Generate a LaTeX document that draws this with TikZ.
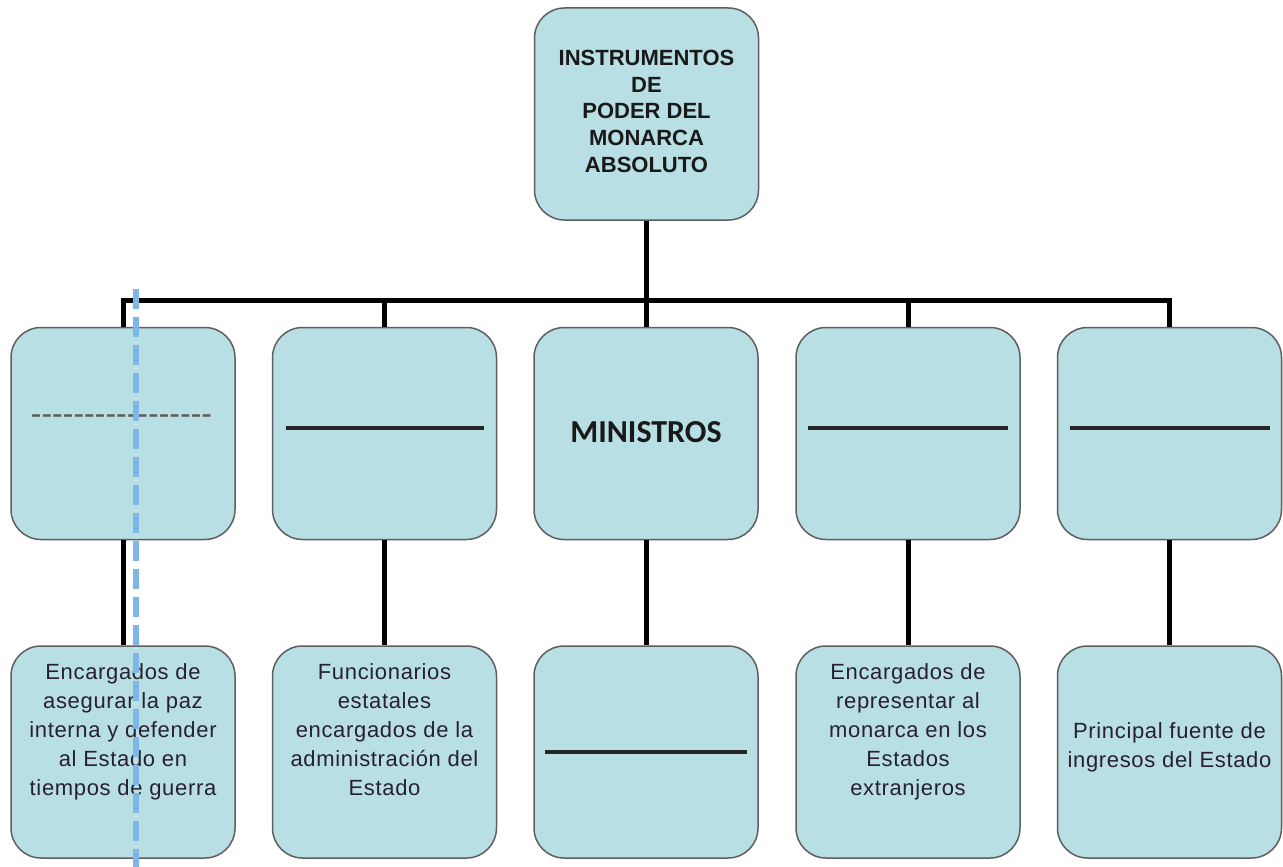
\documentclass[tikz,border=0pt]{standalone}
\usepackage{fontspec}
\setmainfont{Liberation Sans}
\newfontfamily\calibfont{Carlito}
\newfontfamily\plainarial{Liberation Sans}
\newfontfamily\bodyfont[LetterSpace=3]{Liberation Sans}
\usetikzlibrary{calc}
\definecolor{boxfill}{RGB}{184,223,227}
\definecolor{boxline}{RGB}{95,95,95}
\definecolor{guide}{RGB}{125,183,232}
\definecolor{txt}{RGB}{40,32,48}
\definecolor{dashtxt}{RGB}{100,88,90}
\tikzset{
  box/.style={draw=boxline, line width=1.5pt, fill=boxfill, rounded corners=30pt,
    minimum width=224pt, minimum height=212pt, inner sep=0pt},
  conn/.style={line width=5pt, black},
  blank/.style={line width=3.5pt, black!85},
  bodytext/.style={align=center, inner sep=0pt, text=txt,
    font=\bodyfont\fontsize{22}{29}\selectfont},
}
\begin{document}
\begin{tikzpicture}[x=1pt, y=-1pt]
\fill[white] (0,0) rectangle (1283,867);
\useasboundingbox (0,0) rectangle (1283,867);
% boxes
\node[box] (top) at (646.5,114) {};
\node[box] (b1) at (123,433.5) {};
\node[box] (b2) at (384.5,433.5) {};
\node[box] (b3) at (646,433.5) {};
\node[box] (b4) at (908,433.5) {};
\node[box] (b5) at (1169.5,433.5) {};
\node[box] (c1) at (123,752) {};
\node[box] (c2) at (384.5,752) {};
\node[box] (c3) at (646,752) {};
\node[box] (c4) at (908,752) {};
\node[box] (c5) at (1169.5,752) {};
% connectors
\coordinate (bar) at (0,300);
\draw[conn] (top.south) -- (top.south |- bar);
\draw[conn] (b1.north) -- (b1.north |- bar) -- (b5.north |- bar) -- (b5.north);
\draw[conn] (b2.north) -- (b2.north |- bar);
\draw[conn] (b3.north) -- (b3.north |- bar);
\draw[conn] (b4.north) -- (b4.north |- bar);
\foreach \i in {1,...,5}{\draw[conn] (b\i.south) -- (c\i.north);}
% texts
\node[align=center, inner sep=0pt, text=black!90, anchor=north,
  font=\bfseries\fontsize{22}{26.7}\selectfont] (ttop) at (646.5,50)
  {INSTRUMENTOS\\DE\\PODER DEL\\MONARCA\\ABSOLUTO};
\node[anchor=base, inner sep=0pt, text=black!90,
  font=\calibfont\bfseries\fontsize{32}{32}\selectfont] (tmin) at (646,442) {MINISTROS};
\node[anchor=base, inner sep=0pt, text=dashtxt,
  font=\plainarial\fontsize{32}{32}\selectfont] (tdash) at (121.5,424) {-----------------};
\node[bodytext, anchor=north] (t1) at (123,663)
  {Encargados de\\asegurar la paz\\interna y defender\\al Estado en\\tiempos de guerra};
\node[bodytext, anchor=north] (t2) at (384.5,663)
  {Funcionarios\\estatales\\encargados de la\\administración del\\Estado};
\node[bodytext, anchor=north] (t4) at (908,663)
  {Encargados de\\representar al\\monarca en los\\Estados\\extranjeros};
\node[bodytext, anchor=north] (t5) at (1169.5,722)
  {Principal fuente de\\ingresos del Estado};
% blank answer lines
\draw[blank] ($(b2.center)+(-99,-5.5)$) -- ($(b2.center)+(99,-5.5)$);
\draw[blank] ($(b4.center)+(-100,-5.5)$) -- ($(b4.center)+(100,-5.5)$);
\draw[blank] ($(b5.center)+(-100,-5.5)$) -- ($(b5.center)+(100,-5.5)$);
\draw[blank] ($(c3.center)+(-101,0)$) -- ($(c3.center)+(101,0)$);
% blue dashed guide
\coordinate (g1) at (136,289);
\coordinate (g2) at (136,867);
\draw[guide, line width=6.5pt, dash pattern=on 20pt off 8pt] (g1) -- (g2);
\end{tikzpicture}
\end{document}
